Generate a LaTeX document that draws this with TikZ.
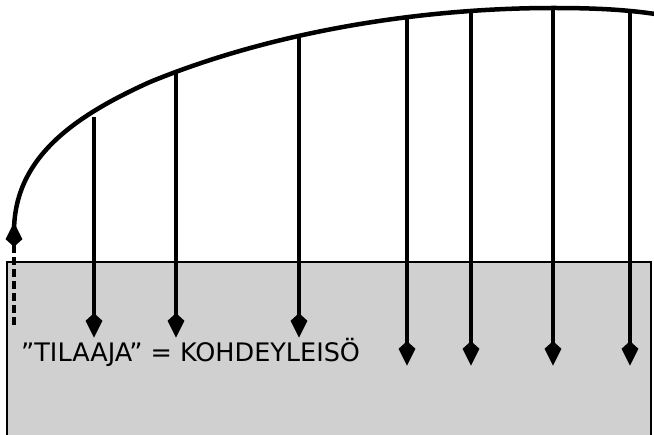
\documentclass[tikz,border=0pt]{standalone}
\usepackage{fontspec}
\setmainfont{DejaVu Sans}
\usetikzlibrary{arrows.meta}
\definecolor{boxgray}{HTML}{D0D0D0}
\begin{document}
\begin{tikzpicture}[x=1pt,y=-1pt,
  tip/.tip={Stealth[length=17pt,width=15pt,inset=-8pt]},
  arr/.style={line width=3.3pt,-tip},
  dasharr/.style={line width=3.2pt,dash pattern=on 8pt off 4pt,-tip},
  curveline/.style={line width=4.5pt}]
\useasboundingbox (0,0) rectangle (654,435);
% box
\fill[boxgray] (7,262) rectangle (651,440);
\draw[line width=2.2pt] (7,440) -- (7,262) -- (651,262) -- (651,440);
% curve
\draw[curveline] (14,232) .. controls (14,160) and (70,118) .. (150,82)
  .. controls (280,28.7) and (430,8) .. (553,8)
  .. controls (600,8) and (630,10) .. (662,15);
% coordinates
\coordinate (d0) at (14,325);
\coordinate (d1) at (14,222);
\coordinate (t1) at (94,117);  \coordinate (b1) at (94,338);
\coordinate (t2) at (176,72);  \coordinate (b2) at (176,338);
\coordinate (t3) at (299,35);  \coordinate (b3) at (299,338);
\coordinate (t4) at (407,15);  \coordinate (b4) at (407,366);
\coordinate (t5) at (471,11);  \coordinate (b5) at (471,366);
\coordinate (t6) at (553,9);   \coordinate (b6) at (553,366);
\coordinate (t7) at (630,12);  \coordinate (b7) at (630,366);
\draw[dasharr] (d0) -- (d1);
\foreach \i in {1,...,7} {\draw[arr] (t\i) -- (b\i);}
\node[anchor=base west,inner sep=0pt,font=\fontsize{25.5}{30}\selectfont] (lbl) at (21,362) {”TILAAJA” = KOHDEYLEISÖ};
\end{tikzpicture}
\end{document}
